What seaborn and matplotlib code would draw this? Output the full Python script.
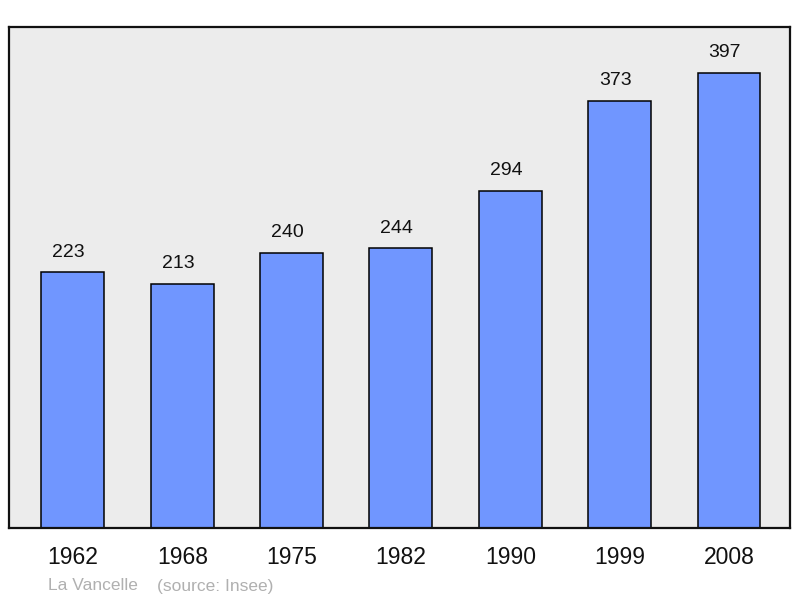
import matplotlib
matplotlib.use("Agg")
import matplotlib.pyplot as plt
import seaborn as sns
import pandas as pd

years = ["1962", "1968", "1975", "1982", "1990", "1999", "2008"]
population = [223, 213, 240, 244, 294, 373, 397]
place = "La Vancelle"
source = "(source: Insee)"

df = pd.DataFrame({"year": years, "pop": population})

sns.set_theme(style="white")
plt.rcParams['font.family'] = ['Liberation Sans', 'DejaVu Sans']

fig = plt.figure(figsize=(8, 5.98), dpi=100)
ax = fig.add_axes([9/800, 70/598, 781/800, 501/598])
ax.set_facecolor("#ececec")

sns.barplot(data=df, x="year", y="pop", order=years, color="#7096ff",
            saturation=1, width=0.576, edgecolor="black", linewidth=1.1, ax=ax)

for i, v in enumerate(population):
    ax.annotate(str(v), (i, v), xytext=(-3, 8.5), textcoords="offset points",
                ha="center", va="bottom", fontsize=14, color="#111111")

ax.set_xlim(-0.585, 6.558)
ax.set_ylim(0, 437.2)
ax.set_yticks([])
ax.set_xlabel("")
ax.set_ylabel("")
ax.tick_params(axis="x", length=0, pad=13, labelsize=16.5, labelcolor="#111111")
for s in ax.spines.values():
    s.set_visible(True)
    s.set_color("#111111")
    s.set_linewidth(1.6)

fig.text(48/800, 1 - 586/598, place, fontsize=12.5, color="#b0b0b0", va="center", ha="left")
fig.text(157/800, 1 - 586/598, source, fontsize=12.5, color="#b0b0b0", va="center", ha="left")

fig.savefig("out.png", dpi=100, facecolor="white")
